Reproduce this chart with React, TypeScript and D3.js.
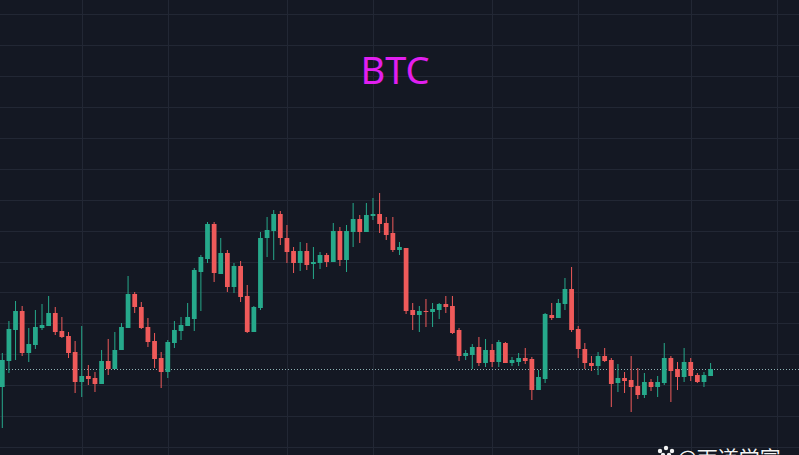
import React from "react";
import * as d3 from "d3";

const W = 799;
const H = 455;

// OHLC candles: [open, high, low, close]
const opens = [30260,30780,31400,31780,30940,31100,31440,31480,31740,31380,31280,30960,30360,30480,30440,30320,30780,30620,31000,31440,32120,31860,31460,31180,30840,30560,31140,31380,31480,31620,32560,32820,33520,32520,32940,32260,32680,32080,31360,31840,33240,33380,33720,33240,32980,32740,32980,32720,32740,32900,32760,33380,32800,33360,33620,33360,33680,33720,33540,33340,33000,33040,31800,31700,31780,31760,31800,31920,31880,31400,30880,30900,31060,30740,31000,30760,31140,30740,30760,30840,30820,30200,30420,31700,31640,31920,32220,31420,31020,30740,30680,30880,30800,30340,30440,30400,30280,30100,30360,30260,30340,30840,30620,30460,30760,30500,30360,30480];
const highs = [30940,31580,31980,31880,31440,31800,31920,32080,31860,31660,31360,31180,31480,30700,30560,31000,31220,31360,31540,32480,32160,31960,31640,31340,30960,31200,31580,31660,31940,32640,32900,33560,33560,33240,33000,32740,32780,32300,31880,33360,33660,33800,33780,33500,33060,33160,33140,33060,32960,32940,33540,33460,33500,33940,33700,33940,34040,34140,33660,33660,33160,33040,31940,31880,32020,31940,31940,32080,32080,31440,31000,31120,31260,31220,31120,31200,31160,30860,30940,31040,30860,30600,31740,31940,32020,32440,32660,31480,31140,30880,30960,31040,30840,30720,30560,30880,30640,30540,30420,30480,31140,30880,30760,31040,30840,30540,30560,30740];
const lows = [29440,30540,30800,30880,30760,31020,31400,31480,31300,31240,30840,30140,30060,30300,30160,30320,30500,30620,31000,31440,31740,31420,31060,30640,30240,30440,31040,31200,31480,31380,31780,32740,32360,32520,32160,32140,31960,31340,31360,31800,32860,32800,33100,32740,32540,32580,32600,32420,32620,32660,32760,32680,32560,33060,33140,33360,33600,33340,33200,32960,32900,31720,31400,31360,31460,31460,31620,31740,31320,30780,30800,30620,30680,30660,30660,30660,30740,30680,30680,30720,30000,30200,30340,31600,31640,31800,31360,30840,30620,30580,30500,30760,29860,30160,30140,29760,30020,30040,30180,30060,30300,29960,30200,30360,30380,30340,30260,30480];
const closes = [30800,31420,31780,30940,31120,31460,31500,31740,31360,31260,30940,30360,30480,30420,30320,30780,30620,31000,31460,32120,31860,31440,31160,30820,30560,31160,31400,31500,31660,32600,32860,33520,32540,32940,32260,32680,32060,31360,31860,33240,33400,33720,33240,32960,32740,32980,32700,32760,32900,32760,33380,32800,33380,33620,33360,33700,33720,33520,33300,33000,33060,31780,31700,31780,31760,31820,31920,31860,31340,30880,30940,31060,30740,31000,30760,31160,30740,30800,30840,30780,30200,30460,31720,31640,31940,32220,31400,31020,30740,30680,30880,30780,30320,30440,30380,30260,30100,30360,30260,30360,30840,30580,30460,30760,30480,30360,30500,30620];

// price domain shown by the pane (top edge -> bottom edge)
const priceTop = 38000;
const priceBottom = 28900;
// horizontal grid levels
const gridPriceStart = 37714;
const gridPriceStep = 618;
const gridCount = 15;
// vertical grid positions (bar index)
const timeGridIdx = [12, 25, 43, 56, 74, 87, 104, 117];

const title = "BTC";
const watermark = "@雨道学富";

const UP = "#26a98b";
const DOWN = "#ef5a5a";

export default function App() {
  const n = opens.length;
  const x = d3.scaleLinear().domain([0, n - 1]).range([2.3, 710.6]);
  const y = d3.scaleLinear().domain([priceTop, priceBottom]).range([0, H]);
  const step = x(1) - x(0);
  const bw = step * 0.72;
  const gridPrices = d3.range(gridCount).map((k) => gridPriceStart - k * gridPriceStep);
  const last = closes[n - 1];

  return (
    <div style={{ position: "absolute", left: 0, top: 0, width: W, height: H }}>
      <svg width={W} height={H} style={{ display: "block" }}>
        <rect x={0} y={0} width={W} height={H} fill="#141823" />
        <g>
          {gridPrices.map((p, i) => (
            <line key={"h" + i} x1={0} x2={W} y1={Math.round(y(p)) + 0.5} y2={Math.round(y(p)) + 0.5} stroke="#222734" strokeWidth={1} />
          ))}
          {timeGridIdx.map((t, i) => (
            <line key={"v" + i} y1={0} y2={H} x1={Math.round(x(t)) + 0.5} x2={Math.round(x(t)) + 0.5} stroke="#222734" strokeWidth={1} />
          ))}
        </g>
        <text x={395} y={84} textAnchor="middle" fill="#e11ff0" fontFamily="'Noto Sans', 'Open Sans', sans-serif" fontSize={38}>
          {title}
        </text>
        <line x1={0} x2={W} y1={Math.round(y(last)) + 0.5} y2={Math.round(y(last)) + 0.5} stroke="#8fb3b5" strokeWidth={1} strokeDasharray="1,2" />
        <g>
          {opens.map((o, i) => {
            const c = closes[i];
            const up = c >= o;
            const col = up ? UP : DOWN;
            const cx = x(i);
            const top = y(Math.max(o, c));
            const bot = y(Math.min(o, c));
            return (
              <g key={i}>
                <line x1={cx} x2={cx} y1={y(highs[i])} y2={y(lows[i])} stroke={col} strokeWidth={1} />
                <rect x={cx - bw / 2} y={top} width={bw} height={Math.max(1, bot - top)} fill={col} />
              </g>
            );
          })}
        </g>
        <g fill="#ffffff" opacity={0.95}>
          <circle cx={660} cy={451} r={2.2} />
          <circle cx={666} cy={448} r={2.2} />
          <circle cx={672} cy={451} r={2.2} />
          <circle cx={663} cy={455} r={2.2} />
          <circle cx={669} cy={455} r={2.2} />
          <text x={677} y={466} fontFamily="'Noto Sans CJK SC', sans-serif" fontSize={21} style={{ paintOrder: "stroke" }} stroke="#000" strokeOpacity={0.3} strokeWidth={1}>
            {watermark}
          </text>
        </g>
      </svg>
    </div>
  );
}
